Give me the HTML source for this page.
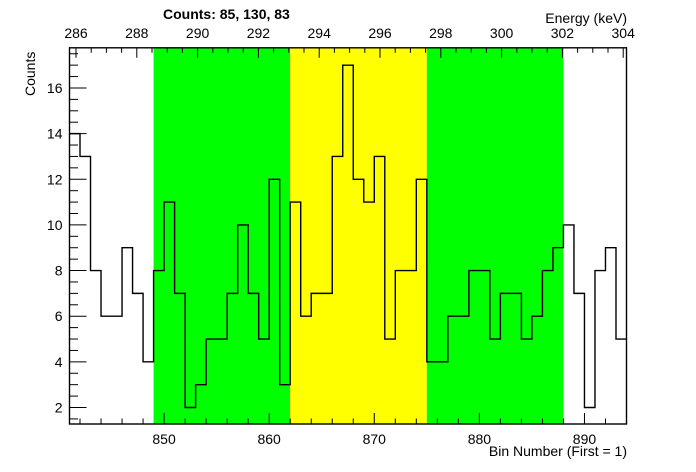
<!DOCTYPE html>
<html><head><meta charset="utf-8"><style>
body{margin:0;background:#fff;}
svg{display:block;font-family:"Liberation Sans",Arial,sans-serif;}
</style></head><body>
<svg id="c" width="696" height="472" viewBox="0 0 696 472"></svg>
<script>
const binStart = 841;
const counts = [14,13,8,6,6,9,7,4, 8,11,7,2,3,5,5,7,10,7,5,12,3, 11,6,7,7,13,17,12,11,13,5,8,8,12, 4,4,6,6,8,8,5,7,7,5,6,8,9, 10,7,2,8,9,5];
const regions = [[849,862,'#00ff00'],[862,875,'#ffff00'],[875,888,'#00ff00']];
const xTicks = [850,860,870,880,890];
const yTicks = [2,4,6,8,10,12,14,16];
const eTicks = [286,288,290,292,294,296,298,300,302,304];
const regionCounts = ['85,','130,','83'];

const L=69.5,R=626.5,T=47.8,B=424;
const xmin=841,xmax=894,ymin=1.277,ymax=17.76;
const X=v=>L+(v-xmin)*(R-L)/(xmax-xmin);
const Y=v=>B-(v-ymin)*(B-T)/(ymax-ymin);
const EX=e=>76+(e-286)*30.4;
const svg=document.getElementById('c');
const NS='http://www.w3.org/2000/svg';
function mk(tag,attrs,parent){const e=document.createElementNS(NS,tag);for(const k in attrs)e.setAttribute(k,attrs[k]);(parent||svg).appendChild(e);return e;}

regions.forEach((r,i)=>{
  const e=mk('rect',{x:X(r[0]),y:T,width:X(r[1])-X(r[0]),height:B-T,fill:r[2]});
  
  
});

let d='';
counts.forEach((c,i)=>{
  const x0=X(binStart+i),x1=X(binStart+i+1),y=Y(c);
  d+=(i===0?'M'+x0+' '+y:'L'+x0+' '+y)+' L'+x1+' '+y+' ';
});
const h=mk('path',{d:d,fill:'none',stroke:'#000','stroke-width':1.4});



const fr=mk('rect',{x:L,y:T,width:R-L,height:B-T,fill:'none',stroke:'#000','stroke-width':1.4});



// bottom axis ticks
for(let v=842;v<=894;v+=2){const big=v%10===0;mk('line',{x1:X(v),x2:X(v),y1:B,y2:B-(big?11:5.5),stroke:'#000','stroke-width':1});}
xTicks.forEach(v=>{const t=mk('text',{x:X(v),y:B+20,'font-size':14,'text-anchor':'middle'});t.textContent=v;

});
// left axis ticks
for(let v=1.5;v<=17.5;v+=0.5){const big=v%2===0;mk('line',{x1:L,x2:L+(big?17:8.5),y1:Y(v),y2:Y(v),stroke:'#000','stroke-width':1});}
yTicks.forEach(v=>{const t=mk('text',{x:L-7,y:Y(v)+5,'font-size':14,'text-anchor':'end'});t.textContent=v;

});
// top energy axis
for(let e=285.5;e<=304;e+=0.5){const x=EX(e);if(x<L||x>R)continue;const big=e%2===0;mk('line',{x1:x,x2:x,y1:T,y2:T+(big?10:5),stroke:'#000','stroke-width':1});}
eTicks.forEach(e=>{const t=mk('text',{x:EX(e),y:38,'font-size':14,'text-anchor':'middle'});t.textContent=e;

});

let t=mk('text',{x:627,y:456,'font-size':14,'text-anchor':'end'});t.textContent='Bin Number (First = 1)';

t=mk('text',{x:627,y:23,'font-size':14,'text-anchor':'end'});t.textContent='Energy (keV)';

t=mk('text',{x:35,y:96,'font-size':14,'text-anchor':'start',transform:'rotate(-90 35 96)'});t.textContent='Counts';

t=mk('text',{x:163,y:19,'font-size':14,'font-weight':'bold','xml:space':'preserve'});
t.textContent='Counts:   '+regionCounts.join('   ');

</script>
</body></html>
